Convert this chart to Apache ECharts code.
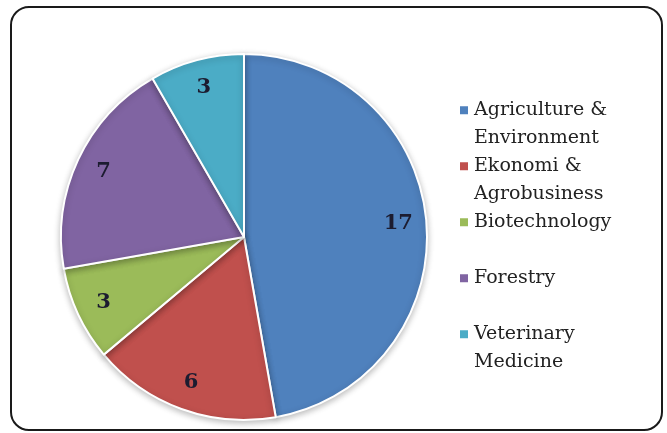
<!DOCTYPE html>
<html>
<head>
<meta charset="utf-8">
<script src="https://cdn.jsdelivr.net/npm/echarts@6/dist/echarts.min.js"></script>
<style>
html,body{margin:0;padding:0;background:#fff;}
#chart{width:667px;height:433px;}
</style>
</head>
<body>
<div id="chart"></div>
<script>
var categories = ['Agriculture & Environment', 'Ekonomi & Agrobusiness', 'Biotechnology', 'Forestry', 'Veterinary Medicine'];
var legendLabels = ['Agriculture &\nEnvironment', 'Ekonomi &\nAgrobusiness', 'Biotechnology\n', 'Forestry\n', 'Veterinary\nMedicine'];
var values = [17, 6, 3, 7, 3];
var colors = ['#4F81BD', '#C0504D', '#9BBB59', '#8064A2', '#4BACC6'];

var R = 183;
var data = categories.map(function (c, i) {
  return { name: c, value: values[i], itemStyle: { color: colors[i] } };
});
var labelData = categories.map(function (c, i) {
  return { name: c, value: values[i] };
});

var chart = echarts.init(document.getElementById('chart'), null, { renderer: 'canvas' });
chart.setOption({
  animation: false,
  backgroundColor: '#ffffff',
  graphic: [{
    type: 'rect',
    shape: { x: 11, y: 7, width: 651, height: 423, r: 18 },
    style: { fill: 'none', stroke: '#1a1a1a', lineWidth: 2 },
    silent: true
  }],
  legend: {
    orient: 'vertical',
    left: 453,
    top: 64,
    itemWidth: 10,
    itemHeight: 10,
    itemGap: -26.5,
    icon: 'rect',
    data: categories,
    formatter: function (name) {
      return '\n' + legendLabels[categories.indexOf(name)];
    },
    textStyle: {
      fontFamily: 'DejaVu Serif',
      fontSize: 19,
      lineHeight: 27.5,
      color: '#222222'
    }
  },
  series: [{
    type: 'pie',
    center: [244, 237],
    radius: [0, R],
    startAngle: 90,
    clockwise: true,
    data: data,
    label: { show: false },
    labelLine: { show: false },
    itemStyle: {
      borderColor: '#ffffff',
      borderWidth: 2,
      shadowColor: 'rgba(0,0,0,0.25)',
      shadowBlur: 6,
      shadowOffsetY: 2
    },
    silent: true
  }, {
    type: 'pie',
    center: [244, 237],
    radius: [R * 0.66, R],
    startAngle: 90,
    clockwise: true,
    data: labelData,
    itemStyle: { color: 'rgba(0,0,0,0)' },
    label: {
      show: true,
      position: 'inside',
      formatter: '{c}',
      fontFamily: 'DejaVu Serif',
      fontWeight: 'bold',
      fontSize: 21,
      color: '#1c1c30'
    },
    labelLine: { show: false },
    silent: true,
    legendHoverLink: false
  }]
});
</script>
</body>
</html>
